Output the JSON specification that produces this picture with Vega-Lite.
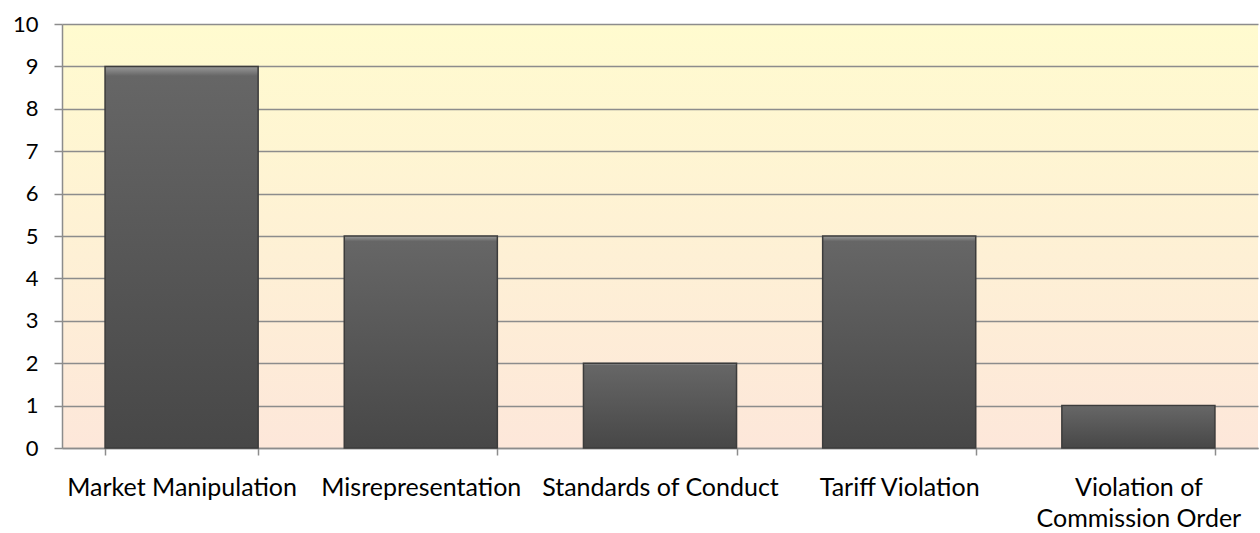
{
  "$schema": "https://vega.github.io/schema/vega-lite/v6.json",
  "autosize": "none",
  "width": 1196,
  "height": 424,
  "padding": {"left": 62, "top": 24, "right": 2, "bottom": 85},
  "background": "white",
  "config": {
    "font": "Lato",
    "view": {
      "stroke": null,
      "fill": {"gradient": "linear", "x1": 0, "y1": 0, "x2": 0, "y2": 1,
        "stops": [{"offset": 0, "color": "#fffbcf"}, {"offset": 1, "color": "#fde7da"}]}
    }
  },
  "data": {
    "values": [
      {"category": "Market Manipulation", "count": 9},
      {"category": "Misrepresentation", "count": 5},
      {"category": "Standards of Conduct", "count": 2},
      {"category": "Tariff Violation", "count": 5},
      {"category": "Violation of Commission Order", "count": 1}
    ]
  },
  "mark": {
    "type": "bar",
    "stroke": "#3c3c3c",
    "strokeWidth": 1.5,
    "fill": {"gradient": "linear", "x1": 0, "y1": 0, "x2": 0, "y2": 1,
      "stops": [{"offset": 0, "color": "#9a9a9a"}, {"offset": 0.025, "color": "#666666"}, {"offset": 1, "color": "#474747"}]}
  },
  "encoding": {
    "x": {
      "field": "category", "type": "nominal", "sort": null,
      "scale": {"paddingInner": 0.36, "paddingOuter": 0.18},
      "axis": {
        "title": null, "labelAngle": 0, "tickBand": "extent",
        "domainColor": "#8c8c8c", "domainWidth": 1.5,
        "tickColor": "#8c8c8c", "tickWidth": 1.5, "tickSize": 7,
        "labelFontSize": 25, "labelColor": "#000000", "labelPadding": 40,
        "labelFont": "Lato", "labelBaseline": "alphabetic", "labelLineHeight": 31,
        "labelLimit": 0,
        "labelExpr": "datum.label == 'Violation of Commission Order' ? ['Violation of', 'Commission Order'] : datum.label"
      }
    },
    "y": {
      "field": "count", "type": "quantitative",
      "scale": {"domain": [0, 10]},
      "axis": {
        "title": null, "values": [0,1,2,3,4,5,6,7,8,9,10],
        "domainColor": "#8c8c8c", "domainWidth": 1.5,
        "tickColor": "#8c8c8c", "tickWidth": 1.5, "tickSize": 8,
        "gridColor": "#8c8c8c", "gridWidth": 1.5,
        "labelFontSize": 22, "labelColor": "#000000", "labelPadding": 16,
        "labelFont": "Lato"
      }
    }
  }
}
